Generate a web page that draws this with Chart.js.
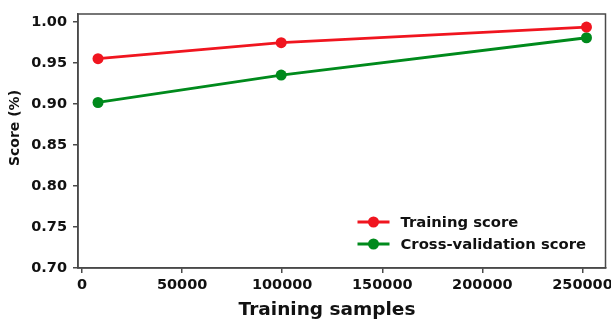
<!DOCTYPE html>
<html>
<head>
<meta charset="utf-8">
<script src="https://cdn.jsdelivr.net/npm/chart.js@4"></script>
<style>
  html, body { margin: 0; padding: 0; background: #fff; }
  #wrap { width: 611px; height: 322px; position: relative; }
</style>
</head>
<body>
<div id="wrap"><canvas id="c"></canvas></div>
<script>
// Learning curve: number of training samples vs. score
const trainSizes = [8000, 99500, 252000];
const trainingScore = [0.9555, 0.975, 0.994];
const crossValScore = [0.902, 0.9355, 0.981];
const xTicks = [0, 50000, 100000, 150000, 200000, 250000];
const yTicks = [0.70, 0.75, 0.80, 0.85, 0.90, 0.95, 1.00];
const seriesNames = ['Training score', 'Cross-validation score'];
const xTitle = 'Training samples';
const yTitle = 'Score (%)';

const RED = '#f0151f';
const GREEN = '#008a1c';
const AXIS = '#4a4a4a';
const FONT = "'DejaVu Sans', sans-serif";

const pts = (ys) => trainSizes.map((x, i) => ({ x, y: ys[i] }));

// Frame around the plotting area
const framePlugin = {
  id: 'frame',
  afterDraw(chart) {
    const { ctx, chartArea: a } = chart;
    ctx.save();
    ctx.strokeStyle = AXIS;
    ctx.lineWidth = 1.5;
    ctx.strokeRect(a.left, a.top, a.right - a.left, a.bottom - a.top);
    ctx.restore();
  }
};

// Axis titles, placed slightly off-centre relative to the plot area
const axisTitles = {
  id: 'axisTitles',
  afterDraw(chart) {
    const { ctx, chartArea: a } = chart;
    ctx.save();
    ctx.fillStyle = '#111';
    ctx.textAlign = 'center';
    ctx.textBaseline = 'middle';
    ctx.font = "bold 18.5px " + FONT;
    ctx.fillText(xTitle, a.left + 249, 310);
    ctx.translate(15.5, a.top + 114);
    ctx.rotate(-Math.PI / 2);
    ctx.font = "bold 14px " + FONT;
    ctx.fillText(yTitle, 0, 0);
    ctx.restore();
  }
};

// Legend drawn inside the lower-right corner of the plot
const innerLegend = {
  id: 'innerLegend',
  afterDraw(chart) {
    const { ctx, chartArea: a } = chart;
    ctx.save();
    ctx.font = "bold 14.8px " + FONT;
    ctx.textBaseline = 'middle';
    chart.data.datasets.forEach((ds, i) => {
      const y = a.bottom - 46 + i * 22;
      const x0 = a.right - 248;
      ctx.strokeStyle = ds.borderColor;
      ctx.lineWidth = 2.8;
      ctx.beginPath();
      ctx.moveTo(x0, y);
      ctx.lineTo(x0 + 32, y);
      ctx.stroke();
      ctx.fillStyle = ds.backgroundColor;
      ctx.beginPath();
      ctx.arc(x0 + 16, y, 5.5, 0, Math.PI * 2);
      ctx.fill();
      ctx.fillStyle = '#111';
      ctx.fillText(ds.label, x0 + 43, y + 1);
    });
    ctx.restore();
  }
};

new Chart(document.getElementById('c'), {
  type: 'line',
  data: {
    datasets: [
      { label: seriesNames[0], data: pts(trainingScore), borderColor: RED, backgroundColor: RED,
        borderWidth: 2.8, pointRadius: 5.5, pointHoverRadius: 5.5, pointBorderWidth: 0 },
      { label: seriesNames[1], data: pts(crossValScore), borderColor: GREEN, backgroundColor: GREEN,
        borderWidth: 2.8, pointRadius: 5.5, pointHoverRadius: 5.5, pointBorderWidth: 0 }
    ]
  },
  options: {
    responsive: true,
    maintainAspectRatio: false,
    animation: false,
    layout: { padding: { top: 14, right: 5, left: 0, bottom: 0 } },
    plugins: { legend: { display: false }, tooltip: { enabled: false } },
    scales: {
      x: {
        type: 'linear',
        min: -2000,
        max: 261500,
        afterBuildTicks: (s) => { s.ticks = xTicks.map(v => ({ value: v })); },
        afterFit: (s) => { s.height = 54; s.paddingLeft = 0; s.paddingRight = 0; },
        ticks: { color: '#111', font: { family: FONT, size: 14.5, weight: 'bold' }, padding: 4,
                 maxRotation: 0, callback: (v) => String(v) },
        grid: { drawOnChartArea: false, drawTicks: true, tickLength: 5, color: AXIS, lineWidth: 1.5 },
        border: { display: true, color: AXIS, width: 1.5 },
        title: { display: false }
      },
      y: {
        type: 'linear',
        min: 0.70,
        max: 1.01,
        afterBuildTicks: (s) => { s.ticks = yTicks.map(v => ({ value: v })); },
        afterFit: (s) => { s.width = 78; s.paddingTop = 0; s.paddingBottom = 0; },
        ticks: { color: '#111', font: { family: FONT, size: 14.5, weight: 'bold' }, padding: 6,
                 callback: (v) => Number(v).toFixed(2) },
        grid: { drawOnChartArea: false, drawTicks: true, tickLength: 5, color: AXIS, lineWidth: 1.5 },
        border: { display: true, color: AXIS, width: 1.5 },
        title: { display: false }
      }
    }
  },
  plugins: [framePlugin, axisTitles, innerLegend]
});
</script>
</body>
</html>
